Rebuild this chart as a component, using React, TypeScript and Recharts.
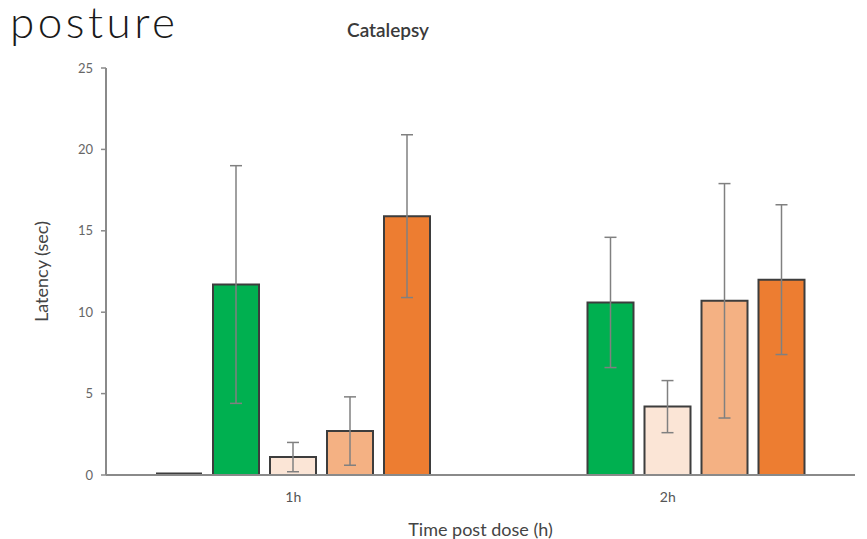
import { BarChart, Bar, XAxis, YAxis, ErrorBar, Label } from 'recharts';

const timepoints = ['1h', '2h'];

// mean latency (sec) per group
const vehicle = [0, null];
const greenGroup = [11.7, 10.6];
const peachGroup = [1.1, 4.2];
const lightOrangeGroup = [2.7, 10.7];
const orangeGroup = [15.9, 12.0];

// error bar half-lengths
const greenErr = [7.3, 4.0];
const peachErr = [0.9, 1.6];
const lightOrangeErr = [2.1, 7.2];
const orangeErr = [5.0, 4.6];

const yTicks = [0, 5, 10, 15, 20, 25];

const data = timepoints.map((t, i) => ({
    time: t,
    vehicle: vehicle[i],
    green: greenGroup[i],
    greenErr: greenErr[i],
    peach: peachGroup[i],
    peachErr: peachErr[i],
    lightOrange: lightOrangeGroup[i],
    lightOrangeErr: lightOrangeErr[i],
    orange: orangeGroup[i],
    orangeErr: orangeErr[i],
}));

const FONT = 'Lato, "Open Sans", sans-serif';
const BAR_STROKE = '#3d3d3d';
const ERR = '#808080';

// zero-height bar: draw its outline as a flat line on the baseline
const ZeroBar = (props: any) => {
    const { x, y, width, height, payload } = props;
    if (payload == null || payload.vehicle == null) return null;
    const yb = y + height - 1.5;
    return <line x1={x} x2={x + width} y1={yb} y2={yb} stroke={BAR_STROKE} strokeWidth={2} />;
};

export default function App() {
    return (
        <div style={{ position: 'absolute', left: 0, top: 0, width: 867, height: 539, background: '#fff' }}>
            <BarChart
                width={867}
                height={539}
                data={data}
                margin={{ top: 68, right: 12, bottom: 0, left: 0 }}
                barSize={46}
                barGap={11}
            >
                <XAxis
                    dataKey="time"
                    axisLine={{ stroke: '#8a8a8a', strokeWidth: 2 }}
                    tickLine={false}
                    tick={{ fill: '#555', fontSize: 14, fontFamily: FONT }}
                    dy={9}
                    height={64}
                >
                    <Label
                        value="Time post dose (h)"
                        position="insideBottom"
                        offset={3}
                        style={{ fill: '#444', fontSize: 18, fontFamily: FONT }}
                    />
                </XAxis>
                <YAxis
                    width={106}
                    domain={[0, 25]}
                    ticks={yTicks}
                    interval={0}
                    axisLine={{ stroke: '#8a8a8a', strokeWidth: 2 }}
                    tickLine={{ stroke: '#8a8a8a', strokeWidth: 1.5 }}
                    tickSize={5}
                    tick={{ fill: '#666', fontSize: 13, fontFamily: FONT }}
                    tickMargin={8}
                >
                    <Label
                        value="Latency (sec)"
                        angle={-90}
                        position="insideLeft"
                        offset={42}
                        style={{ textAnchor: 'middle', fill: '#444', fontSize: 18, fontFamily: FONT }}
                    />
                </YAxis>
                <Bar dataKey="vehicle" name="Vehicle" fill="#404040" shape={ZeroBar} isAnimationActive={false} />
                <Bar dataKey="green" name="Group 2" fill="#00b050" stroke={BAR_STROKE} strokeWidth={2} isAnimationActive={false}>
                    <ErrorBar dataKey="greenErr" width={6} stroke={ERR} strokeWidth={1.5} direction="y" />
                </Bar>
                <Bar dataKey="peach" name="Group 3" fill="#fbe5d6" stroke={BAR_STROKE} strokeWidth={2} isAnimationActive={false}>
                    <ErrorBar dataKey="peachErr" width={6} stroke={ERR} strokeWidth={1.5} direction="y" />
                </Bar>
                <Bar dataKey="lightOrange" name="Group 4" fill="#f4b183" stroke={BAR_STROKE} strokeWidth={2} isAnimationActive={false}>
                    <ErrorBar dataKey="lightOrangeErr" width={6} stroke={ERR} strokeWidth={1.5} direction="y" />
                </Bar>
                <Bar dataKey="orange" name="Group 5" fill="#ed7d31" stroke={BAR_STROKE} strokeWidth={2} isAnimationActive={false}>
                    <ErrorBar dataKey="orangeErr" width={6} stroke={ERR} strokeWidth={1.5} direction="y" />
                </Bar>
            </BarChart>
            <svg width={867} height={539} style={{ position: 'absolute', left: 0, top: 0, pointerEvents: 'none' }}>
                <text x={10} y={38} fontSize={44} fontFamily={FONT} fontWeight={300} letterSpacing={3.5} fill="#1a1a1a">
                    posture
                </text>
                <text x={388} y={37} textAnchor="middle" fontSize={19} fontWeight={600} fontFamily={FONT} fill="#3a3a3a">
                    Catalepsy
                </text>
            </svg>
        </div>
    );
}
